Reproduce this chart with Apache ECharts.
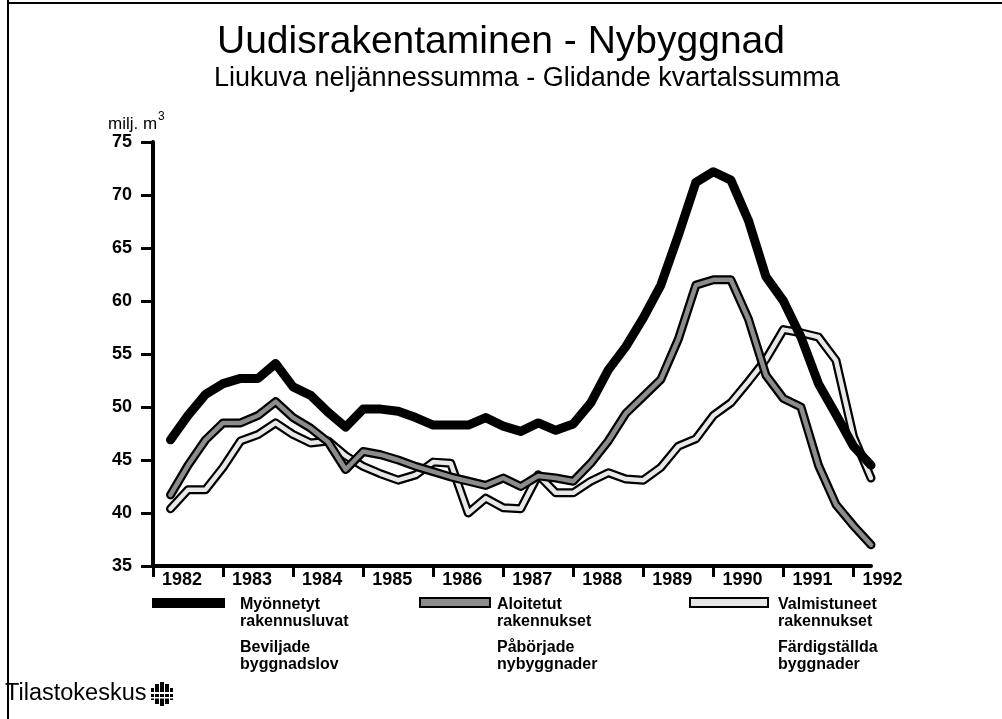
<!DOCTYPE html>
<html>
<head>
<meta charset="utf-8">
<script src="https://cdn.jsdelivr.net/npm/echarts@6/dist/echarts.min.js"></script>
<style>
html,body{margin:0;padding:0;background:#fff;}
#chart{width:1002px;height:719px;}
</style>
</head>
<body>
<div id="chart"></div>
<script>
// Quarterly moving sums, million m3; each point at the end of its quarter
var quarters = ['1982Q1','1982Q2','1982Q3','1982Q4','1983Q1','1983Q2','1983Q3','1983Q4',
  '1984Q1','1984Q2','1984Q3','1984Q4','1985Q1','1985Q2','1985Q3','1985Q4',
  '1986Q1','1986Q2','1986Q3','1986Q4','1987Q1','1987Q2','1987Q3','1987Q4',
  '1988Q1','1988Q2','1988Q3','1988Q4','1989Q1','1989Q2','1989Q3','1989Q4',
  '1990Q1','1990Q2','1990Q3','1990Q4','1991Q1','1991Q2','1991Q3','1991Q4','1992Q1'];
var myonnetyt = [46.9,49.2,51.2,52.2,52.7,52.7,54.1,51.9,51.1,49.5,48.1,49.8,49.8,49.6,49.0,48.3,
  48.3,48.3,49.0,48.2,47.7,48.5,47.8,48.4,50.4,53.5,55.7,58.4,61.5,66.2,71.2,72.2,
  71.4,67.6,62.3,60.0,56.6,52.2,49.3,46.3,44.5];
var aloitetut = [41.7,44.5,46.9,48.5,48.5,49.2,50.5,49.0,48.0,46.7,44.1,45.8,45.5,45.0,44.4,43.9,
  43.4,43.0,42.6,43.3,42.5,43.5,43.3,43.0,44.7,46.8,49.4,51.0,52.6,56.4,61.5,62.0,
  62.0,58.3,53.0,50.8,50.0,44.5,40.8,38.8,37.0];
var valmistuneet = [40.4,42.2,42.2,44.3,46.8,47.4,48.5,47.4,46.6,46.8,45.4,44.4,43.7,43.1,43.6,44.8,
  44.7,40.0,41.4,40.5,40.4,43.6,41.9,41.9,43.0,43.8,43.2,43.1,44.3,46.3,47.0,49.2,
  50.4,52.4,54.5,57.3,57.0,56.6,54.4,47.2,43.3];
var yearTicks = [1982,1983,1984,1985,1986,1987,1988,1989,1990,1991,1992];
var seriesNames = ['Myönnetyt rakennusluvat / Beviljade byggnadslov',
  'Aloitetut rakennukset / Påbörjade nybyggnader',
  'Valmistuneet rakennukset / Färdigställda byggnader'];
var legendLines = [
  ['Myönnetyt','rakennusluvat','Beviljade','byggnadslov'],
  ['Aloitetut','rakennukset','Påbörjade','nybyggnader'],
  ['Valmistuneet','rakennukset','Färdigställda','byggnader']
];
var titleText = 'Uudisrakentaminen - Nybyggnad';
var subtitleText = 'Liukuva neljännessumma - Glidande kvartalssumma';
var unitText = 'milj. m';
var sourceText = 'Tilastokeskus';

function toXY(vals){
  return vals.map(function(v,i){
    var p = quarters[i].split('Q');
    return [Number(p[0]) + Number(p[1])/4, v];
  });
}
var FONT = "'Liberation Sans', Arial, sans-serif";

var chart = echarts.init(document.getElementById('chart'), null, {renderer:'canvas'});

function lineSeries(name, data, color, width, z){
  return {name:name, type:'line', data:data, showSymbol:false, symbol:'none', z:z,
    lineStyle:{color:color, width:width, join:'round', cap:'round'}, animation:false, silent:true};
}

// legend drawn as graphic elements
var legendX = [152, 420, 690];
var legendW = [73, 70, 78];
var legendTextX = [240, 497, 778];
var lineY = [605, 622, 648, 665];
var graphics = [];
// frame
graphics.push({type:'line', shape:{x1:8,y1:0,x2:8,y2:719}, style:{stroke:'#000', lineWidth:2}, silent:true});
graphics.push({type:'line', shape:{x1:8,y1:3,x2:1002,y2:3}, style:{stroke:'#000', lineWidth:2}, silent:true});
// swatches
graphics.push({type:'rect', shape:{x:legendX[0], y:598, width:legendW[0], height:10}, style:{fill:'#000'}});
graphics.push({type:'rect', shape:{x:legendX[1], y:598, width:legendW[1], height:9}, style:{fill:'#8c8c8c', stroke:'#000', lineWidth:2}});
graphics.push({type:'rect', shape:{x:legendX[2], y:598, width:legendW[2], height:9}, style:{fill:'#e6e6e6', stroke:'#000', lineWidth:2}});
legendLines.forEach(function(lines, k){
  lines.forEach(function(t, j){
    graphics.push({type:'text', x:legendTextX[k], y:lineY[j],
      style:{text:t, font:'bold 16px ' + FONT, fill:'#000', textVerticalAlign:'middle', textAlign:'left'}});
  });
});
// source + logo
graphics.push({type:'text', x:5, y:694, style:{text:sourceText, font:'23.5px ' + FONT, fill:'#000', textVerticalAlign:'middle'}});
var bars = [[151,688,3,12],[155,684,4,20],[160,682,4,24],[165,684,4,20],[170,688,3,12]];
bars.forEach(function(b){
  graphics.push({type:'rect', shape:{x:b[0], y:b[1], width:b[2], height:b[3]}, style:{fill:'#000'}});
});
graphics.push({type:'rect', shape:{x:151,y:692,width:22,height:2}, style:{fill:'#fff'}});
graphics.push({type:'rect', shape:{x:151,y:697,width:22,height:1.5}, style:{fill:'#fff'}});

var option = {
  backgroundColor:'#fff',
  animation:false,
  textStyle:{fontFamily:FONT},
  title:[
    {text:titleText, left:'center', top:18, textStyle:{fontSize:39, fontWeight:'normal', color:'#000', fontFamily:FONT}},
    {text:subtitleText, left:209, top:60, textStyle:{fontSize:27, fontWeight:'normal', color:'#000', fontFamily:FONT}},
    {text:'{u|' + unitText + '}{s|3}', left:103, top:106,
      textStyle:{rich:{u:{fontSize:17, fontWeight:'normal', color:'#000', fontFamily:FONT, verticalAlign:'bottom'},
        s:{fontSize:12, fontWeight:'normal', color:'#000', fontFamily:FONT, padding:[0,0,10,1], verticalAlign:'top'}}}}
  ],
  grid:{left:153, right:131, top:142, bottom:153, containLabel:false},
  xAxis:{type:'value', min:1982, max:1992.25, interval:1,
    axisLine:{show:true, onZero:false, lineStyle:{color:'#000', width:4}},
    axisTick:{show:true, customValues:yearTicks, length:11, inside:false, lineStyle:{color:'#000', width:3}},
    axisLabel:{customValues:yearTicks, formatter:function(v){return String(v);}, align:'left', padding:[0,0,0,9],
      margin:5, fontSize:18, fontWeight:'bold', color:'#000', fontFamily:FONT},
    splitLine:{show:false}},
  yAxis:{type:'value', min:35, max:75, interval:5,
    axisLine:{show:true, lineStyle:{color:'#000', width:4}},
    axisTick:{show:true, length:12, lineStyle:{color:'#000', width:3}},
    axisLabel:{margin:21, fontSize:18, fontWeight:'bold', color:'#000', fontFamily:FONT},
    splitLine:{show:false}},
  series:[
    lineSeries(seriesNames[2], toXY(valmistuneet), '#000', 9, 2),
    lineSeries(seriesNames[2] + ' (sisä)', toXY(valmistuneet), '#e8e8e8', 4.5, 3),
    lineSeries(seriesNames[1], toXY(aloitetut), '#000', 9, 4),
    lineSeries(seriesNames[1] + ' (sisä)', toXY(aloitetut), '#8c8c8c', 4.5, 5),
    lineSeries(seriesNames[0], toXY(myonnetyt), '#000', 9, 6)
  ],
  graphic:graphics
};
chart.setOption(option);
</script>
</body>
</html>
